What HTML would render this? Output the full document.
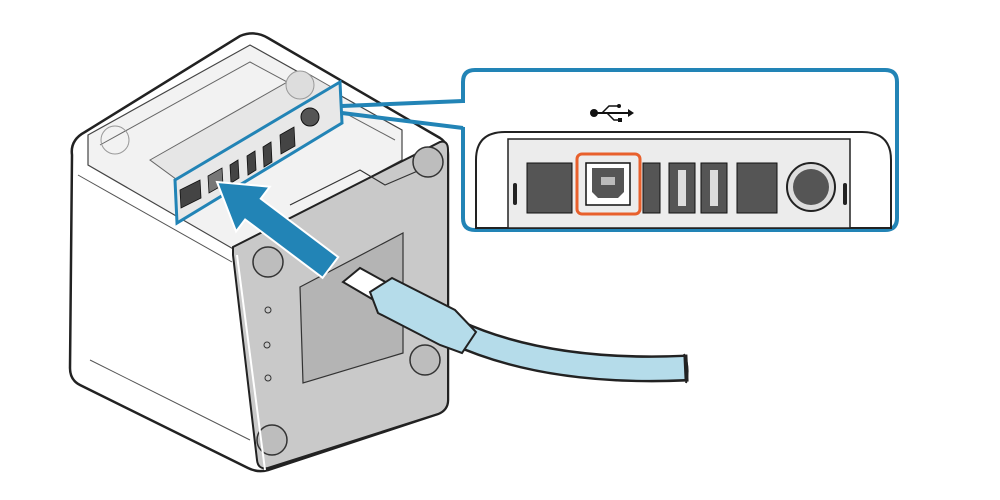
<!DOCTYPE html>
<html><head><meta charset="utf-8"><style>html,body{margin:0;padding:0;background:#fff}svg{display:block}</style></head>
<body>
<svg width="1000" height="500" viewBox="0 0 1000 500" xmlns="http://www.w3.org/2000/svg">
<path d="M72,155 Q70,140 85,132 L240,36 Q255,30 268,38 L440,138 Q448,143 448,155 L448,400 Q448,410 438,414 L268,470 Q258,473 248,468 L80,385 Q70,380 70,368 Z" fill="#fff" stroke="#222" stroke-width="2.5"/>
<path d="M88,135 L250,45 L402,130 L402,160 L235,250 L88,165 Z" fill="#f2f2f2" stroke="#444" stroke-width="1.2"/>
<path d="M100,145 L250,62 L395,140" fill="none" stroke="#666" stroke-width="1"/>
<path d="M150,160 L305,72 L340,92 L180,182 Z" fill="#e6e6e6" stroke="#666" stroke-width="1"/>
<circle cx="300" cy="85" r="14" fill="#ddd" stroke="#999"/>
<circle cx="115" cy="140" r="14" fill="none" stroke="#999"/>
<path d="M233,247 L440,142 Q448,140 448,150 L448,400 Q448,410 438,414 L268,468 Q258,470 257,460 L233,255 Z" fill="#c9c9c9" stroke="#222" stroke-width="2"/>
<path d="M290,205 L360,170 L385,185 L420,170 L420,150" fill="none" stroke="#333" stroke-width="1.2"/>
<path d="M300,287 L403,233 L403,353 L303,383 Z" fill="#b4b4b4" stroke="#333" stroke-width="1.2"/>
<circle cx="428" cy="162" r="15" fill="#bdbdbd" stroke="#333" stroke-width="1.5"/>
<circle cx="268" cy="262" r="15" fill="#bdbdbd" stroke="#333" stroke-width="1.5"/>
<circle cx="425" cy="360" r="15" fill="#bdbdbd" stroke="#333" stroke-width="1.5"/>
<circle cx="272" cy="440" r="15" fill="#bdbdbd" stroke="#333" stroke-width="1.5"/>
<circle cx="268" cy="310" r="3" fill="none" stroke="#333"/><circle cx="267" cy="345" r="3" fill="none" stroke="#333"/><circle cx="268" cy="378" r="3" fill="none" stroke="#333"/>
<path d="M237,255 L265,470" stroke="#fff" stroke-width="2"/>
<line x1="90" y1="360" x2="250" y2="440" stroke="#555" stroke-width="1"/>
<line x1="78" y1="175" x2="232" y2="262" stroke="#555" stroke-width="1"/>
<path d="M175,180 L340,82 L342,123 L177,223 Z" fill="#e8e8e8" stroke="#2284b6" stroke-width="3"/>
<g fill="#444" stroke="#111" stroke-width="0.8">
<path d="M180,190 L200,180 L201,198 L181,208 Z"/>
<path d="M208,176 L222,168 L223,185 L209,193 Z" fill="#777"/>
<path d="M230,165 L238,160 L239,178 L231,183 Z"/>
<path d="M247,156 L255,151 L256,170 L248,175 Z"/>
<path d="M263,147 L271,142 L272,162 L264,167 Z"/>
<path d="M280,135 L294,127 L295,146 L281,154 Z"/>
</g>
<circle cx="310" cy="117" r="9" fill="#555" stroke="#111"/>
<line x1="342" y1="106" x2="463" y2="101" stroke="#2284b6" stroke-width="4"/>
<line x1="342" y1="113" x2="463" y2="128" stroke="#2284b6" stroke-width="4"/>
<polygon transform="translate(217,182) rotate(37)" points="0,0 45,-28 45,-13 142,-13 142,13 45,13 45,28" fill="#2284b6" stroke="#fff" stroke-width="2"/>
<path d="M455,332 C520,362 600,372 688,368" fill="none" stroke="#222" stroke-width="27"/>
<path d="M455,332 C520,362 600,372 684,368" fill="none" stroke="#b5dcea" stroke-width="22"/>
<path d="M684,354 Q690,368 686,383" fill="none" stroke="#222" stroke-width="2"/>
<polygon points="343,282 360,268 400,290 384,306" fill="#fff" stroke="#222" stroke-width="2"/>
<polygon points="370,292 392,278 455,310 476,332 462,353 440,345 378,313" fill="#b5dcea" stroke="#222" stroke-width="2"/>
<path d="M463,103 L463,82 Q463,70 475,70 L885,70 Q897,70 897,82 L897,218 Q897,230 885,230 L475,230 Q463,230 463,218 L463,127" fill="none" stroke="#2284b6" stroke-width="4"/>
<path d="M476,228 L476,160 Q476,132 505,132 L862,132 Q891,132 891,160 L891,228 Z" fill="#fff" stroke="#222" stroke-width="2"/>
<rect x="508" y="139" width="342" height="89" fill="#ececec" stroke="#222" stroke-width="1.5"/>
<rect x="527" y="163" width="45" height="50" fill="#555" stroke="#111"/>
<rect x="586" y="163" width="44" height="42" fill="#fff" stroke="#111" stroke-width="1.5"/>
<path d="M592,168 L624,168 L624,192 L618,198 L598,198 L592,192 Z" fill="#555"/>
<rect x="601" y="177" width="14" height="8" fill="#bbb"/>
<rect x="577" y="154" width="63" height="60" rx="5" fill="none" stroke="#e8602c" stroke-width="3"/>
<rect x="643" y="163" width="17" height="50" fill="#555" stroke="#111"/>
<rect x="669" y="163" width="26" height="50" fill="#555" stroke="#111"/><rect x="678" y="170" width="8" height="36" fill="#ddd"/>
<rect x="701" y="163" width="26" height="50" fill="#555" stroke="#111"/><rect x="710" y="170" width="8" height="36" fill="#ddd"/>
<rect x="737" y="163" width="40" height="50" fill="#555" stroke="#111"/>
<circle cx="811" cy="187" r="24" fill="#ddd" stroke="#222" stroke-width="2"/>
<circle cx="811" cy="187" r="18" fill="#555"/>
<rect x="513" y="183" width="4" height="22" rx="2" fill="#222"/><rect x="843" y="183" width="4" height="22" rx="2" fill="#222"/>
<circle cx="594" cy="113" r="4" fill="#111"/>
<line x1="594" y1="113" x2="630" y2="113" stroke="#111" stroke-width="2"/>
<polygon points="628,109 634,113 628,117" fill="#111"/>
<path d="M602,113 L609,106 L618,106" fill="none" stroke="#111" stroke-width="1.5"/><circle cx="619" cy="106" r="2" fill="#111"/>
<path d="M607,113 L614,120 L619,120" fill="none" stroke="#111" stroke-width="1.5"/><rect x="618" y="118" width="4" height="4" fill="#111"/>
</svg>
</body></html>
